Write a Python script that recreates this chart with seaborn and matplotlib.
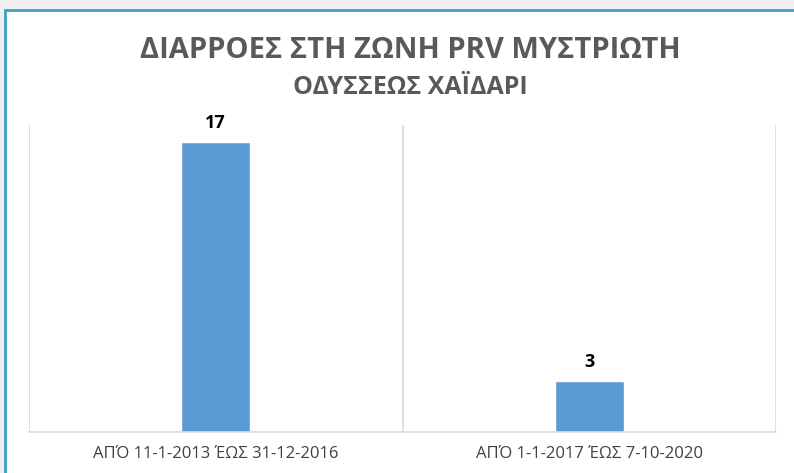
import matplotlib
matplotlib.use("Agg")
import matplotlib.pyplot as plt
import seaborn as sns
import pandas as pd
from matplotlib.patches import Rectangle

# --- data ---
periods = ["ΑΠΌ 11-1-2013 ΈΩΣ 31-12-2016", "ΑΠΌ 1-1-2017 ΈΩΣ 7-10-2020"]
leaks = [17, 3]
title_line1 = "ΔΙΑΡΡΟΕΣ ΣΤΗ ΖΩΝΗ PRV ΜΥΣΤΡΙΩΤΗ"
title_line2 = "ΟΔΥΣΣΕΩΣ ΧΑΪΔΑΡΙ"

df = pd.DataFrame({"period": periods, "leaks": leaks})

sns.set_theme(style="white")
plt.rcParams["font.family"] = ["Open Sans", "DejaVu Sans"]

fig = plt.figure(figsize=(7.94, 4.73), dpi=100, facecolor="#f0f0f0")

# white chart area with the teal frame (top and left edges visible)
W, H = 794, 473
fig.patches.append(Rectangle((5 / W, 0), 1, 1 - 10 / H, transform=fig.transFigure,
                             facecolor="white", edgecolor="none", zorder=-3))
fig.patches.append(Rectangle((4 / W, 0), 3 / W, 1 - 9 / H, transform=fig.transFigure,
                             facecolor="#4aa3c8", edgecolor="none", zorder=-2))
fig.patches.append(Rectangle((4 / W, 1 - 12 / H), 1, 3 / H, transform=fig.transFigure,
                             facecolor="#4aa3c8", edgecolor="none", zorder=-2))

ax = fig.add_axes([29 / W, 41 / H, 747 / W, 307 / H])
ax.set_facecolor("none")

sns.barplot(data=df, x="period", y="leaks", color="#5b9bd5", width=0.185,
            saturation=1, ax=ax)

ax.set_xlim(-0.5, 1.5)
ax.set_ylim(0, 18)
ax.set_yticks([])
ax.set_xlabel("")
ax.set_ylabel("")

# category separators
ax.set_xticks([-0.5, 0.5, 1.5], minor=True)
ax.grid(True, which="minor", axis="x", color="#d9d9d9", linewidth=1.2)
ax.set_axisbelow(True)
ax.tick_params(axis="x", which="both", length=0, pad=10, labelsize=12,
               labelcolor="#404040")

for side in ["top", "right", "left"]:
    ax.spines[side].set_visible(False)
ax.spines["bottom"].set_color("#d9d9d9")
ax.spines["bottom"].set_linewidth(1.2)

ax.bar_label(ax.containers[0], labels=[str(v) for v in leaks], padding=7,
             fontsize=13, fontweight="bold", color="black")

fig.text(0.517, 1 - 50 / H, title_line1, ha="center", va="center",
         fontsize=21, fontweight="bold", color="#595959")
fig.text(0.517, 1 - 88 / H, title_line2, ha="center", va="center",
         fontsize=18, fontweight="bold", color="#595959")

fig.savefig("out.png", dpi=100, facecolor=fig.get_facecolor())
